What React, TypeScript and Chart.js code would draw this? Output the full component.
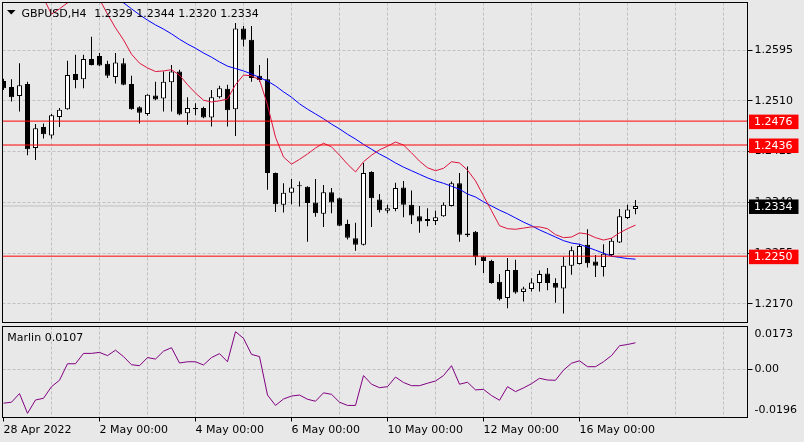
import React, { useEffect, useRef } from 'react';
import { Chart, registerables } from 'chart.js';

Chart.register(...registerables);

// ---------------- data ----------------
const symbolName = 'GBPUSD,H4';
const indicatorName = 'Marlin';

const opens = [
  1.2543, 1.2533, 1.2518, 1.2538, 1.2431, 1.2466, 1.2452, 1.2483, 1.2496, 1.2555,
  1.2546, 1.2580, 1.2585, 1.2572, 1.2550, 1.2573, 1.2538, 1.2499, 1.2488, 1.2519,
  1.2514, 1.2541, 1.2559, 1.2489, 1.2498, 1.2498, 1.2482, 1.2516, 1.2530, 1.2496,
  1.2631, 1.2612, 1.2552, 1.2546, 1.2389, 1.2336, 1.2356, 1.2368, 1.2366, 1.2340,
  1.2321, 1.2357, 1.2347, 1.2304, 1.2280, 1.2269, 1.2391, 1.2345, 1.2326, 1.2329,
  1.2365, 1.2336, 1.2317, 1.2312, 1.2309, 1.2317, 1.2334, 1.2372, 1.2285, 1.2291,
  1.2249, 1.2242, 1.2207, 1.2180, 1.2227, 1.2190, 1.2195, 1.2205, 1.2221, 1.2205,
  1.2196, 1.2234, 1.2237, 1.2269, 1.2241, 1.2232, 1.2252, 1.2273, 1.2314, 1.2329,
];
const highs = [
  1.2547, 1.2546, 1.2573, 1.2542, 1.2471, 1.2472, 1.2488, 1.2498, 1.2577, 1.2587,
  1.2587, 1.2617, 1.2590, 1.2577, 1.2590, 1.2581, 1.2552, 1.2501, 1.2521, 1.2542,
  1.2559, 1.2570, 1.2562, 1.2516, 1.2506, 1.2500, 1.2528, 1.2535, 1.2537, 1.2640,
  1.2635, 1.2635, 1.2570, 1.2581, 1.2390, 1.2372, 1.2379, 1.2375, 1.2367, 1.2379,
  1.2369, 1.2364, 1.2348, 1.2311, 1.2306, 1.2406, 1.2392, 1.2354, 1.2336, 1.2373,
  1.2376, 1.2360, 1.2334, 1.2330, 1.2326, 1.2340, 1.2375, 1.2389, 1.2400, 1.2292,
  1.2250, 1.2244, 1.2220, 1.2247, 1.2244, 1.2199, 1.2213, 1.2226, 1.2230, 1.2213,
  1.2249, 1.2266, 1.2270, 1.2295, 1.2252, 1.2270, 1.2280, 1.2329, 1.2336, 1.2344,
];
const lows = [
  1.2528, 1.2509, 1.2492, 1.2419, 1.2411, 1.2447, 1.2447, 1.2466, 1.2495, 1.2531,
  1.2531, 1.2569, 1.2568, 1.2548, 1.2539, 1.2536, 1.2495, 1.2472, 1.2485, 1.2511,
  1.2492, 1.2492, 1.2486, 1.2470, 1.2486, 1.2481, 1.2467, 1.2514, 1.2467, 1.2451,
  1.2601, 1.2542, 1.2542, 1.2361, 1.2324, 1.2323, 1.2337, 1.2333, 1.2274, 1.2316,
  1.2299, 1.2322, 1.2300, 1.2278, 1.2259, 1.2268, 1.2299, 1.2323, 1.2322, 1.2325,
  1.2315, 1.2304, 1.2289, 1.2300, 1.2302, 1.2316, 1.2333, 1.2274, 1.2282, 1.2235,
  1.2222, 1.2204, 1.2176, 1.2163, 1.2187, 1.2174, 1.2191, 1.2191, 1.2193, 1.2172,
  1.2154, 1.2219, 1.2236, 1.2231, 1.2215, 1.2216, 1.2249, 1.2272, 1.2312, 1.2320,
];
const closes = [
  1.2531, 1.2516, 1.2536, 1.2429, 1.2464, 1.2454, 1.2486, 1.2495, 1.2553, 1.2545,
  1.2580, 1.2570, 1.2569, 1.2552, 1.2574, 1.2537, 1.2496, 1.2490, 1.2520, 1.2512,
  1.2542, 1.2559, 1.2487, 1.2498, 1.2496, 1.2482, 1.2516, 1.2531, 1.2494, 1.2631,
  1.2612, 1.2548, 1.2545, 1.2389, 1.2337, 1.2356, 1.2365, 1.2367, 1.2339, 1.2322,
  1.2357, 1.2340, 1.2301, 1.2281, 1.2269, 1.2389, 1.2347, 1.2327, 1.2330, 1.2364,
  1.2336, 1.2318, 1.2308, 1.2309, 1.2315, 1.2336, 1.2372, 1.2286, 1.2288, 1.2249,
  1.2242, 1.2205, 1.2178, 1.2227, 1.2189, 1.2196, 1.2206, 1.2220, 1.2205, 1.2197,
  1.2234, 1.2260, 1.2267, 1.2238, 1.2234, 1.2254, 1.2276, 1.2317, 1.2328, 1.2334,
];
// red moving average (hidden above the chart at the start)
const redMA = [
  null, null, null, null, null, 1.2682, 1.2655, 1.2664, 1.2674, 1.2684,
  1.2689, 1.2689, 1.2680, 1.2655, 1.2632, 1.2612, 1.2588, 1.2573, 1.2565, 1.2559,
  1.2560, 1.2562, 1.2553, 1.2537, 1.2523, 1.2511, 1.2508, 1.2510, 1.2513, 1.2537,
  1.2553, 1.2552, 1.2545, 1.2503, 1.2449, 1.2416, 1.2404, 1.2412, 1.2421, 1.2431,
  1.2439, 1.2433, 1.2419, 1.2404, 1.2391, 1.2408, 1.2419, 1.2428, 1.2434, 1.2441,
  1.2436, 1.2423, 1.2409, 1.2398, 1.2393, 1.2397, 1.2408, 1.2406, 1.2394, 1.2376,
  1.2351, 1.2326, 1.2301, 1.2296, 1.2295, 1.2297, 1.2299, 1.2299, 1.2296, 1.2286,
  1.2281, 1.2282, 1.2289, 1.2287, 1.2281, 1.2277, 1.2280, 1.2289, 1.2296, 1.2302,
];
// blue moving average
const blueMA = [
  null, null, null, null, null, null, null, null, null, null,
  null, null, null, null, 1.2682, 1.2674, 1.2664, 1.2654, 1.2645, 1.2637,
  1.2630, 1.2622, 1.2613, 1.2605, 1.2598, 1.2590, 1.2583, 1.2575, 1.2568, 1.2564,
  1.2560, 1.2555, 1.2549, 1.2543, 1.2535, 1.2525, 1.2516, 1.2505, 1.2496, 1.2488,
  1.2480, 1.2471, 1.2463, 1.2454, 1.2446, 1.2437, 1.2429, 1.2421, 1.2414, 1.2406,
  1.2399, 1.2393, 1.2387, 1.2381, 1.2376, 1.2372, 1.2367, 1.2362, 1.2354, 1.2349,
  1.2341, 1.2334, 1.2327, 1.2321, 1.2314, 1.2307, 1.2301, 1.2294, 1.2288, 1.2282,
  1.2276, 1.2272, 1.2270, 1.2265, 1.2260, 1.2255, 1.2250, 1.2248, 1.2246, 1.2245,
];
const marlin = [
  -0.0138, -0.0134, -0.0099, -0.0179, -0.0125, -0.0118, -0.0071, -0.0045, 0.0022, 0.0022,
  0.0064, 0.0064, 0.0068, 0.0055, 0.0077, 0.0051, 0.0018, 0.0014, 0.0047, 0.0041,
  0.0073, 0.0087, 0.0025, 0.0030, 0.0030, 0.0017, 0.0047, 0.0063, 0.0030, 0.0152,
  0.0125, 0.0060, 0.0051, -0.0105, -0.0147, -0.0121, -0.0109, -0.0105, -0.0122, -0.0130,
  -0.0096, -0.0102, -0.0134, -0.0147, -0.0147, -0.0026, -0.0061, -0.0075, -0.0071, -0.0032,
  -0.0054, -0.0067, -0.0067, -0.0057, -0.0048, -0.0026, 0.0014, -0.0061, -0.0053, -0.0084,
  -0.0082, -0.0107, -0.0126, -0.0071, -0.0091, -0.0076, -0.0059, -0.0037, -0.0044, -0.0045,
  -0.0004, 0.0024, 0.0034, 0.0010, 0.0010, 0.0030, 0.0055, 0.0095, 0.0100, 0.0107,
];

const priceTicks = [1.2170, 1.2255, 1.2340, 1.2425, 1.2510, 1.2595];
const levelLines = [1.2476, 1.2436, 1.2250];
const bidPrice = 1.2334;
const priceMin = 1.2139;
const priceMax = 1.26745;
const marlinMin = -0.0196;
const marlinMax = 0.0173;
const gridIdx = [0, 6, 12, 18, 24, 30, 36, 42, 48, 54, 60, 66, 72, 78, 84, 90];
const dateTickIdx = [0, 12, 24, 36, 48, 60, 72];
const dateTickLabels = ['28 Apr 2022', '2 May 00:00', '4 May 00:00', '6 May 00:00', '10 May 00:00', '12 May 00:00', '16 May 00:00'];

// ---------------- styling ----------------
const FONT = '"DejaVu Sans", sans-serif';
const BG = '#e8e8e8';
const GRID = '#c0c0c0';
const X_MIN = -0.125;
const X_MAX = 93;
const AXIS_W = 56.5;

Chart.defaults.font.family = FONT;

const bgPlugin = {
  id: 'bgFill',
  beforeDraw(chart: any) {
    const ctx = chart.ctx;
    ctx.save();
    ctx.fillStyle = BG;
    ctx.fillRect(0, 0, chart.width, chart.height);
    ctx.restore();
  },
};

const framePlugin = {
  id: 'frame',
  afterDraw(chart: any) {
    const { ctx, chartArea: a } = chart;
    ctx.save();
    ctx.strokeStyle = '#000';
    ctx.lineWidth = 1;
    ctx.strokeRect(a.left, a.top, a.right - a.left, a.bottom - a.top);
    ctx.restore();
  },
};

const mainDecor = {
  id: 'mainDecor',
  afterDraw(chart: any) {
    const { ctx, chartArea: a } = chart;
    const y = chart.scales.y;
    const n = closes.length - 1;
    ctx.save();
    // header
    ctx.fillStyle = '#000';
    ctx.beginPath();
    ctx.moveTo(7, 10);
    ctx.lineTo(15.5, 10);
    ctx.lineTo(11.25, 14.5);
    ctx.closePath();
    ctx.fill();
    ctx.font = `11px ${FONT}`;
    ctx.textBaseline = 'alphabetic';
    ctx.textAlign = 'left';
    ctx.fillText(symbolName, 21.5, 17.3);
    ctx.fillText(
      `${opens[n].toFixed(4)} ${highs[n].toFixed(4)} ${lows[n].toFixed(4)} ${closes[n].toFixed(4)}`,
      94.3,
      17.3
    );
    // price boxes
    const boxes = [
      ...levelLines.map((v) => ({ v, bg: '#ff0000' })),
      { v: bidPrice, bg: '#000000' },
    ];
    ctx.textBaseline = 'middle';
    for (const b of boxes) {
      const py = y.getPixelForValue(b.v);
      ctx.fillStyle = b.bg;
      ctx.fillRect(a.right + 1.5, py - 6.5, 49.5, 14.5);
      ctx.fillStyle = '#ffffff';
      ctx.fillText(b.v.toFixed(4), 754, py + 0.8);
    }
    ctx.restore();
  },
};

const subDecor = {
  id: 'subDecor',
  afterDraw(chart: any) {
    const ctx = chart.ctx;
    ctx.save();
    ctx.fillStyle = '#000';
    ctx.font = `11px ${FONT}`;
    ctx.textBaseline = 'alphabetic';
    ctx.textAlign = 'left';
    ctx.fillText(`${indicatorName} ${marlin[marlin.length - 1].toFixed(4)}`, 7.3, 16.7);
    ctx.restore();
  },
};

export default function App() {
  const mainRef = useRef<HTMLCanvasElement>(null);
  const subRef = useRef<HTMLCanvasElement>(null);

  useEffect(() => {
    const idx = closes.map((_, i) => i);
    const wickData = idx.map((i) => ({ x: i, y: [lows[i], highs[i]] }));
    const bodyData = idx.map((i) => ({ x: i, y: [opens[i], closes[i]] }));
    const bodyFill = idx.map((i) => (closes[i] >= opens[i] ? '#ffffff' : '#000000'));
    const hLine = (v: number) => [
      { x: X_MIN, y: v },
      { x: X_MAX, y: v },
    ];

    const main = new Chart(mainRef.current as HTMLCanvasElement, {
      type: 'bar',
      data: {
        datasets: [
          {
            type: 'line',
            label: 'bid',
            data: hLine(bidPrice),
            borderColor: GRID,
            borderWidth: 1,
            pointRadius: 0,
            order: 6,
          } as any,
          {
            type: 'bar',
            label: 'wicks',
            data: wickData,
            backgroundColor: '#000',
            borderWidth: 0,
            barThickness: 1,
            grouped: false,
            inflateAmount: 0,
            order: 5,
          } as any,
          {
            type: 'bar',
            label: 'bodies',
            data: bodyData,
            backgroundColor: bodyFill,
            borderColor: '#000',
            borderWidth: 1,
            borderSkipped: false,
            barThickness: 5,
            grouped: false,
            inflateAmount: 0,
            minBarLength: 1,
            order: 4,
          } as any,
          {
            type: 'line',
            label: 'MA blue',
            data: idx.map((i) => ({ x: i, y: blueMA[i] })),
            borderColor: '#0000ff',
            borderWidth: 1,
            pointRadius: 0,
            order: 3,
          } as any,
          {
            type: 'line',
            label: 'MA red',
            data: idx.map((i) => ({ x: i, y: redMA[i] })),
            borderColor: '#dc143c',
            borderWidth: 1,
            pointRadius: 0,
            order: 2,
          } as any,
          ...levelLines.map(
            (v) =>
              ({
                type: 'line',
                label: 'level ' + v,
                data: hLine(v),
                borderColor: '#ff0000',
                borderWidth: 1,
                pointRadius: 0,
                order: 1,
              } as any)
          ),
        ],
      },
      options: {
        animation: false,
        responsive: false,
        maintainAspectRatio: false,
        devicePixelRatio: 1,
        events: [],
        layout: { padding: { left: 2.5, top: 2.5, right: 0, bottom: 1.5 } },
        plugins: { legend: { display: false }, tooltip: { enabled: false }, title: { display: false } },
        scales: {
          x: {
            type: 'linear',
            min: X_MIN,
            max: X_MAX,
            offset: false,
            afterBuildTicks: (s: any) => {
              s.ticks = gridIdx.map((v) => ({ value: v }));
            },
            afterFit: (s: any) => {
              s.height = 0;
              s.paddingLeft = 0;
              s.paddingRight = 0;
            },
            ticks: { display: false },
            grid: {
              color: (c: any) => (c.tick && c.tick.value === 0 ? 'rgba(0,0,0,0)' : GRID),
              drawTicks: false,
              lineWidth: 1,
              offset: false,
            },
            border: { display: false, dash: [3, 2] },
          },
          y: {
            type: 'linear',
            position: 'right',
            min: priceMin,
            max: priceMax,
            afterBuildTicks: (s: any) => {
              s.ticks = priceTicks.map((v) => ({ value: v }));
            },
            afterFit: (s: any) => {
              s.width = AXIS_W;
              s.paddingTop = 0;
              s.paddingBottom = 0;
            },
            ticks: {
              color: '#000',
              font: { family: FONT, size: 11 },
              padding: 2,
              callback: (v: any) => Number(v).toFixed(4),
            },
            grid: {
              color: GRID,
              tickColor: '#000',
              tickLength: 5,
              tickBorderDash: [],
              drawTicks: true,
              lineWidth: 1,
            },
            border: { display: false, dash: [3, 2] },
          },
        },
      } as any,
      plugins: [bgPlugin, framePlugin, mainDecor],
    });

    const sub = new Chart(subRef.current as HTMLCanvasElement, {
      type: 'line',
      data: {
        datasets: [
          {
            label: indicatorName,
            data: idx.map((i) => ({ x: i, y: marlin[i] })),
            borderColor: '#800080',
            borderWidth: 1,
            pointRadius: 0,
          } as any,
        ],
      },
      options: {
        animation: false,
        responsive: false,
        maintainAspectRatio: false,
        devicePixelRatio: 1,
        events: [],
        layout: { padding: { left: 2.5, top: 2.5, right: 0, bottom: 0 } },
        plugins: { legend: { display: false }, tooltip: { enabled: false } },
        scales: {
          x: {
            type: 'linear',
            min: X_MIN,
            max: X_MAX,
            offset: false,
            afterBuildTicks: (s: any) => {
              s.ticks = gridIdx.map((v) => ({ value: v }));
            },
            afterFit: (s: any) => {
              s.height = 24.5;
              s.paddingLeft = 0;
              s.paddingRight = 0;
            },
            ticks: {
              autoSkip: false,
              maxRotation: 0,
              minRotation: 0,
              align: 'start',
              padding: 2,
              color: '#000',
              font: { family: FONT, size: 11 },
              callback: (v: any) => {
                const j = dateTickIdx.indexOf(Number(v));
                return j >= 0 ? dateTickLabels[j] : '';
              },
            },
            grid: {
              color: (c: any) => (c.tick && c.tick.value === 0 ? 'rgba(0,0,0,0)' : GRID),
              tickColor: (c: any) =>
                c.tick && dateTickIdx.includes(c.tick.value) ? '#000' : 'rgba(0,0,0,0)',
              tickLength: 4,
              tickBorderDash: [],
              lineWidth: 1,
              offset: false,
            },
            border: { display: false, dash: [3, 2] },
          },
          y: {
            type: 'linear',
            position: 'right',
            min: marlinMin,
            max: marlinMax,
            afterBuildTicks: (s: any) => {
              s.ticks = [marlinMin, 0, marlinMax].map((v) => ({ value: v }));
            },
            afterFit: (s: any) => {
              s.width = AXIS_W;
              s.paddingTop = 0;
              s.paddingBottom = 0;
            },
            ticks: {
              color: '#000',
              font: { family: FONT, size: 11, lineHeight: 1.4 },
              padding: 2,
              callback: (v: any) => {
                const n = Number(v);
                if (n === marlinMax) return ['', marlinMax.toFixed(4)];
                if (n === marlinMin) return [marlinMin.toFixed(4), ''];
                return n.toFixed(2);
              },
            },
            grid: {
              color: (c: any) => (c.tick && c.tick.value === 0 ? GRID : 'rgba(0,0,0,0)'),
              tickColor: (c: any) => (c.tick && c.tick.value === 0 ? '#000' : 'rgba(0,0,0,0)'),
              tickLength: 5,
              tickBorderDash: [],
              lineWidth: 1,
            },
            border: { display: false, dash: [3, 2] },
          },
        },
      } as any,
      plugins: [bgPlugin, framePlugin, subDecor],
    });

    return () => {
      main.destroy();
      sub.destroy();
    };
  }, []);

  return (
    <div
      style={{
        position: 'fixed',
        left: 0,
        top: 0,
        width: 804,
        height: 442,
        background: BG,
        overflow: 'hidden',
      }}
    >
      <canvas
        ref={mainRef}
        width={804}
        height={324}
        style={{ position: 'absolute', left: 0, top: 0, width: 804, height: 324, display: 'block' }}
      />
      <canvas
        ref={subRef}
        width={804}
        height={118}
        style={{ position: 'absolute', left: 0, top: 324, width: 804, height: 118, display: 'block' }}
      />
    </div>
  );
}
